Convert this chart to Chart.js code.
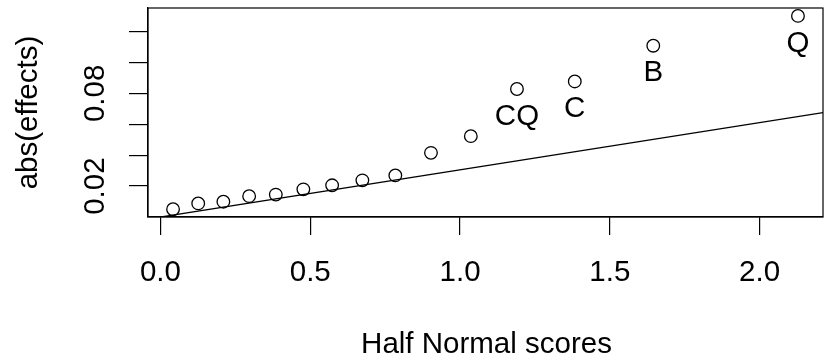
<!DOCTYPE html>
<html>
<head>
<meta charset="utf-8">
<script src="https://cdn.jsdelivr.net/npm/chart.js@4.4.1/dist/chart.umd.min.js"></script>
<style>
  html, body { margin: 0; padding: 0; background: #fff; }
  canvas { display: block; }
</style>
</head>
<body>
<canvas id="chart" width="824" height="356"></canvas>
<script>
// half normal plot of the effects
const scores = [0.042, 0.126, 0.210, 0.296, 0.385, 0.477, 0.573, 0.674, 0.784, 0.903, 1.036, 1.190, 1.383, 1.645, 2.128]
const effects = [0.0050, 0.0088, 0.0099, 0.0135, 0.0145, 0.0179, 0.0205, 0.0237, 0.0269, 0.0415, 0.0523, 0.0828, 0.0877, 0.1108, 0.1301]
const pointLabels = ['', '', '', '', '', '', '', '', '', '', '', 'CQ', 'C', 'B', 'Q']

// reference line
const lineX = [-0.0416, 2.2116]
const lineY = [-0.0013, 0.0675]

const xTicks = [0, 0.5, 1, 1.5, 2]
const yTicks = [0.02, 0.04, 0.06, 0.08, 0.10, 0.12]
const yTickLabels = { 0.02: '0.02', 0.08: '0.08' }

const FONT = "'Liberation Sans', Arial, Helvetica, sans-serif"
const FS = 29.5

const rStyle = {
  id: 'rStyle',
  afterDraw(chart) {
    const { ctx, chartArea: a, scales } = chart
    ctx.save()
    ctx.strokeStyle = '#000'
    ctx.lineWidth = 1.2
    ctx.strokeRect(a.left, a.top, a.right - a.left, a.bottom - a.top)

    ctx.fillStyle = '#000'
    ctx.font = FS + 'px ' + FONT
    ctx.textAlign = 'center'
    ctx.textBaseline = 'alphabetic'

    // labels under the big effects
    const meta = chart.getDatasetMeta(1)
    meta.data.forEach((pt, i) => {
      if (pointLabels[i]) ctx.fillText(pointLabels[i], pt.x, pt.y + 35.7)
    })

    // x title
    ctx.fillText('Half Normal scores', (a.left + a.right) / 2 + 1, 353)

    // y tick labels, parallel to the axis
    yTicks.forEach(v => {
      const lab = yTickLabels[v]
      if (!lab) return
      const py = scales.y.getPixelForValue(v)
      ctx.save()
      ctx.translate(104, py)
      ctx.rotate(-Math.PI / 2)
      ctx.fillText(lab, 0, 0)
      ctx.restore()
    })

    // y title
    ctx.save()
    ctx.translate(37.3, (a.top + a.bottom) / 2)
    ctx.rotate(-Math.PI / 2)
    ctx.fillText('abs(effects)', 0, 0)
    ctx.restore()
    ctx.restore()
  }
}

new Chart(document.getElementById('chart'), {
  type: 'scatter',
  data: {
    datasets: [
      {
        data: lineX.map((x, i) => ({ x: x, y: lineY[i] })),
        showLine: true,
        borderColor: '#000',
        borderWidth: 1.3,
        pointRadius: 0
      },
      {
        data: scores.map((x, i) => ({ x: x, y: effects[i] })),
        pointStyle: 'circle',
        pointRadius: 6.3,
        borderColor: '#000',
        backgroundColor: 'rgba(0,0,0,0)',
        borderWidth: 1.3
      }
    ]
  },
  options: {
    responsive: false,
    animation: false,
    events: [],
    layout: { autoPadding: false, padding: { left: 0, top: 8, right: 1, bottom: 0 } },
    plugins: { legend: { display: false }, tooltip: { enabled: false } },
    scales: {
      x: {
        type: 'linear',
        min: -0.0416,
        max: 2.2116,
        afterBuildTicks: s => { s.ticks = xTicks.map(v => ({ value: v })) },
        afterFit: s => { s.height = 139; s.paddingLeft = 0; s.paddingRight = 0 },
        grid: { drawOnChartArea: false, drawTicks: true, tickLength: 18, color: '#000', lineWidth: 1.2 },
        border: { display: true, color: '#000', width: 1.2 },
        ticks: {
          color: '#000',
          padding: 20,
          maxRotation: 0,
          font: { family: FONT, size: FS },
          callback: v => v.toFixed(1)
        }
      },
      y: {
        type: 'linear',
        min: 0,
        max: 0.1352,
        afterBuildTicks: s => { s.ticks = yTicks.map(v => ({ value: v })) },
        afterFit: s => { s.width = 148; s.paddingTop = 0; s.paddingBottom = 0 },
        grid: { drawOnChartArea: false, drawTicks: true, tickLength: 19, color: '#000', lineWidth: 1.2 },
        border: { display: true, color: '#000', width: 1.2 },
        ticks: { display: false }
      }
    }
  },
  plugins: [rStyle]
})
</script>
</body>
</html>
